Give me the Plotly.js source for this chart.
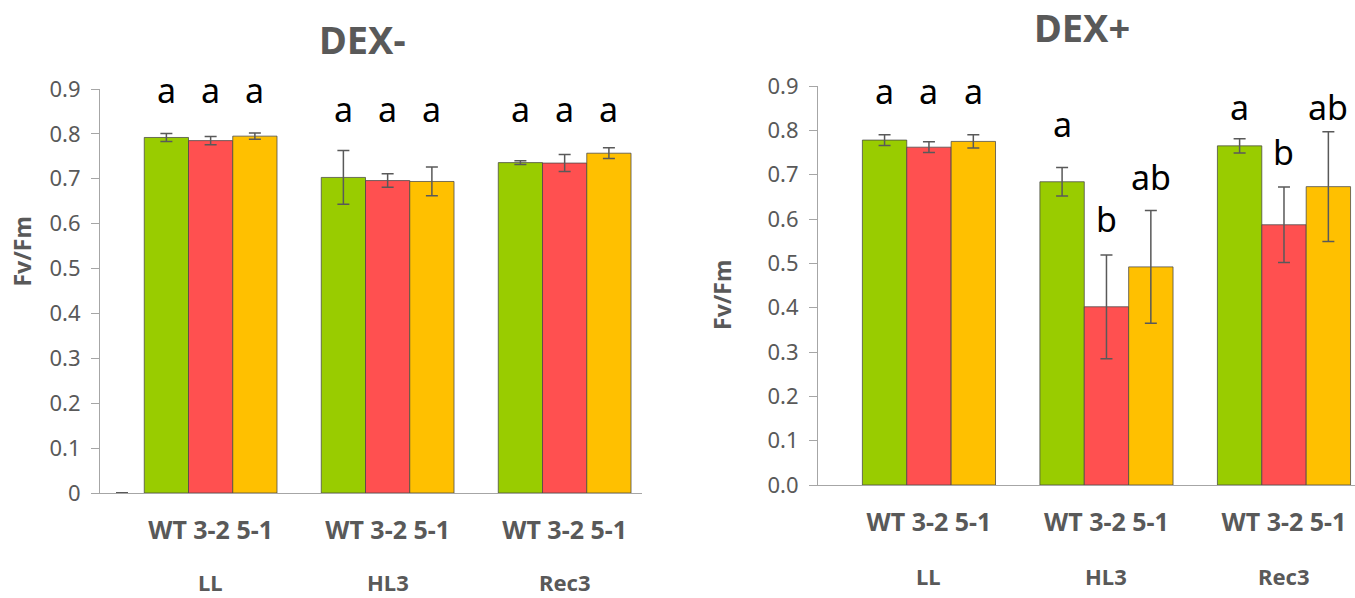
<!DOCTYPE html>
<html>
<head>
<meta charset="utf-8">
<script src="https://cdn.plot.ly/plotly-3.0.1.min.js"></script>
<style>
  html, body { margin: 0; padding: 0; background: #ffffff; }
  #chart { width: 1355px; height: 598px; }
</style>
</head>
<body>
<div id="chart"></div>
<script>
// ---------- data ----------
const groups = ['LL', 'HL3', 'Rec3'];
const genotypes = ['WT', '3-2', '5-1'];
const genotypeColors = ['#99CC00', '#FF5050', '#FFC000'];
const tickLabel = 'WT 3-2 5-1';

// DEX-
const dexMinusWT = [0.792, 0.703, 0.736];
const dexMinus32 = [0.785, 0.696, 0.735];
const dexMinus51 = [0.795, 0.694, 0.757];
const dexMinusWTErr = [0.009, 0.060, 0.004];
const dexMinus32Err = [0.009, 0.015, 0.019];
const dexMinus51Err = [0.007, 0.032, 0.012];
const dexMinusBlank = [0, null, null];
const dexMinusBlankErr = [0, null, null];
const dexMinusLetters = [['a', 'a', 'a'], ['a', 'a', 'a'], ['a', 'a', 'a']];
const dexMinusLetterY = [[0.888, 0.888, 0.888], [0.846, 0.846, 0.846], [0.846, 0.846, 0.846]];

// DEX+
const dexPlusWT = [0.778, 0.684, 0.765];
const dexPlus32 = [0.762, 0.402, 0.587];
const dexPlus51 = [0.775, 0.492, 0.673];
const dexPlusWTErr = [0.012, 0.032, 0.016];
const dexPlus32Err = [0.012, 0.117, 0.085];
const dexPlus51Err = [0.015, 0.127, 0.124];
const dexPlusBlank = [null, null, null];
const dexPlusBlankErr = [null, null, null];
const dexPlusLetters = [['a', 'a', 'a'], ['a', 'b', 'ab'], ['a', 'b', 'ab']];
const dexPlusLetterY = [[0.880, 0.880, 0.880], [0.806, 0.590, 0.685], [0.843, 0.743, 0.843]];

// ---------- build ----------
const FONT = 'Noto Sans, DejaVu Sans, sans-serif';
const GRAY = '#595959';
const xIdx = groups.map((g, i) => i);
const nSlots = 4;             // blank slot + 3 genotypes per group
const slotW = 1 / nSlots;
const slotOffset = s => (s - (nSlots - 1) / 2) * slotW;
const cleanErr = arr => arr.map(v => (v === null ? NaN : v));

function makeTraces(blank, blankErr, series, errs, xa, ya, tag) {
  const tr = [];
  tr.push({
    type: 'bar', x: xIdx, y: blank, xaxis: xa, yaxis: ya, offsetgroup: tag + '0',
    marker: { color: 'rgba(0,0,0,0)', line: { width: 0 } },
    error_y: { type: 'data', array: cleanErr(blankErr), visible: true, color: GRAY, thickness: 1.5, width: 6 },
    showlegend: false, hoverinfo: 'skip', name: 'blank'
  });
  series.forEach((vals, s) => {
    tr.push({
      type: 'bar', x: xIdx, y: vals, xaxis: xa, yaxis: ya, name: genotypes[s], offsetgroup: tag + (s + 1),
      marker: { color: genotypeColors[s], line: { color: 'rgba(70,70,70,0.75)', width: 1 } },
      error_y: { type: 'data', array: cleanErr(errs[s]), visible: true, color: GRAY, thickness: 1.5, width: 6 },
      showlegend: false
    });
  });
  return tr;
}

const traces = [].concat(
  makeTraces(dexMinusBlank, dexMinusBlankErr, [dexMinusWT, dexMinus32, dexMinus51],
             [dexMinusWTErr, dexMinus32Err, dexMinus51Err], 'x', 'y', 'm'),
  makeTraces(dexPlusBlank, dexPlusBlankErr, [dexPlusWT, dexPlus32, dexPlus51],
             [dexPlusWTErr, dexPlus32Err, dexPlus51Err], 'x2', 'y2', 'p')
);

const annotations = [];
function addLetters(letters, ys, xr, yr) {
  letters.forEach((row, g) => row.forEach((txt, s) => {
    annotations.push({
      text: txt, xref: xr, yref: yr, x: g + slotOffset(s + 1), y: ys[g][s],
      xanchor: 'center', yanchor: 'middle', yshift: 4, showarrow: false,
      font: { family: FONT, size: 34, color: '#000000' }
    });
  }));
}
addLetters(dexMinusLetters, dexMinusLetterY, 'x', 'y');
addLetters(dexPlusLetters, dexPlusLetterY, 'x2', 'y2');

const centerOff = (slotOffset(1) + slotOffset(3)) / 2;
function addGroupNames(xr, yPaper) {
  groups.forEach((g, i) => annotations.push({
    text: '<b>' + g + '</b>', xref: xr, yref: 'paper', x: i + centerOff, y: yPaper,
    xanchor: 'center', yanchor: 'middle', showarrow: false,
    font: { family: FONT, size: 22, color: GRAY }
  }));
}
addGroupNames('x', 0.0268);
addGroupNames('x2', 0.036);

// titles
annotations.push({ text: '<b>DEX-</b>', xref: 'paper', yref: 'paper', x: 362 / 1355, y: 0.9356,
  xanchor: 'center', yanchor: 'middle', showarrow: false, font: { family: FONT, size: 38, color: GRAY } });
annotations.push({ text: '<b>DEX+</b>', xref: 'paper', yref: 'paper', x: 1082 / 1355, y: 0.9548,
  xanchor: 'center', yanchor: 'middle', showarrow: false, font: { family: FONT, size: 38, color: GRAY } });
// y axis titles
annotations.push({ text: '<b>Fv/Fm</b>', xref: 'paper', yref: 'paper', x: 22 / 1355, y: 0.5794,
  xanchor: 'center', yanchor: 'middle', textangle: -90, showarrow: false, font: { family: FONT, size: 23, color: GRAY } });
annotations.push({ text: '<b>Fv/Fm</b>', xref: 'paper', yref: 'paper', x: 722 / 1355, y: 0.5067,
  xanchor: 'center', yanchor: 'middle', textangle: -90, showarrow: false, font: { family: FONT, size: 23, color: GRAY } });

const tickVals = xIdx.map(i => i + centerOff);
const xCommon = {
  type: 'linear', tickmode: 'array', tickvals: tickVals, ticktext: groups.map(() => '<b>' + tickLabel + '</b>'),
  showgrid: false, zeroline: false, showline: true, linecolor: '#a6a6a6', linewidth: 1,
  ticks: '', ticklabelstandoff: 15, tickfont: { family: FONT, size: 25, color: GRAY }, fixedrange: true
};
const yCommon = {
  range: [0, 0.9], dtick: 0.1, tick0: 0, showgrid: false, zeroline: false, showline: true,
  linecolor: '#a6a6a6', linewidth: 1, ticks: 'outside', ticklen: 8, tickcolor: '#a6a6a6',
  ticklabelstandoff: 6, tickfont: { family: FONT, size: 22, color: GRAY }, fixedrange: true
};

const layout = {
  width: 1355, height: 598,
  margin: { l: 0, r: 0, t: 0, b: 0 },
  paper_bgcolor: '#ffffff', plot_bgcolor: '#ffffff',
  barmode: 'group', bargap: 0, bargroupgap: 0,
  showlegend: false,
  xaxis: Object.assign({}, xCommon, { domain: [100 / 1355, 642 / 1355], range: [-0.5, 2.562], anchor: 'y' }),
  yaxis: Object.assign({}, yCommon, { domain: [105 / 598, 509 / 598], anchor: 'x' }),
  xaxis2: Object.assign({}, xCommon, { domain: [818 / 1355, 1], range: [-0.5, 2.525], anchor: 'y2' }),
  yaxis2: Object.assign({}, yCommon, { domain: [113 / 598, 512 / 598], anchor: 'x2', tickformat: '.1f' }),
  annotations: annotations
};

Plotly.newPlot('chart', traces, layout, { displayModeBar: false, staticPlot: true });
</script>
</body>
</html>
